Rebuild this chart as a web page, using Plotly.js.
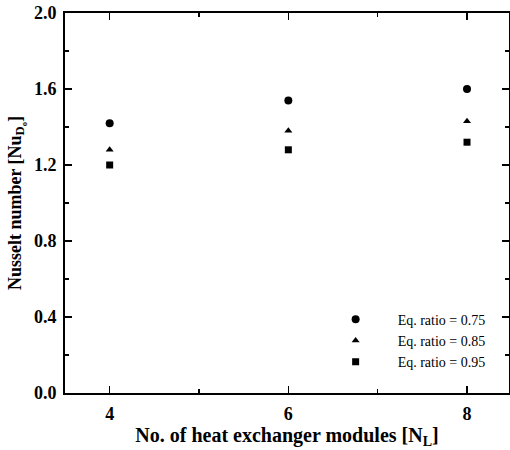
<!DOCTYPE html>
<html>
<head>
<meta charset="utf-8">
<script src="https://cdn.plot.ly/plotly-3.0.1.min.js"></script>
<style>html,body{margin:0;padding:0;background:#fff;}#chart{width:510px;height:450px;}</style>
</head>
<body>
<div id="chart"></div>
<script>
const modules = [4, 6, 8];
const seriesNames = ["Eq. ratio = 0.75", "Eq. ratio = 0.85", "Eq. ratio = 0.95"];
const nu075 = [1.42, 1.54, 1.60];
const nu085 = [1.28, 1.38, 1.43];
const nu095 = [1.20, 1.28, 1.32];

const symbols = ["circle", "triangle-up", "square"];
const sizes = [8, 7, 7];
const values = [nu075, nu085, nu095];
const SERIF = "Liberation Serif, Times New Roman, serif";

const traces = values.map((v, i) => ({
  x: modules, y: v, mode: "markers", type: "scatter", name: seriesNames[i],
  marker: {symbol: symbols[i], size: sizes[i], color: "#000"}
}));

const axisCommon = {
  showline: true, linecolor: "#000", linewidth: 2, mirror: "ticks",
  ticks: "inside", ticklen: 7, tickwidth: 1.5, tickcolor: "#000",
  showgrid: false, zeroline: false, tickmode: "linear",
  tickfont: {family: SERIF, size: 18, color: "#000", weight: "bold"},
  ticklabelstandoff: 3
};

const layout = {
  width: 510, height: 450,
  margin: {l: 65, r: 1, t: 13, b: 57},
  paper_bgcolor: "#fff", plot_bgcolor: "#fff",
  showlegend: true,
  legend: {
    x: 0.56, y: 0.235, xanchor: "left", yanchor: "top",
    font: {family: SERIF, size: 14, color: "#000"},
    itemwidth: 74, bgcolor: "rgba(0,0,0,0)", tracegroupgap: 0
  },
  xaxis: Object.assign({}, axisCommon, {
    range: [3.5, 8.47], tick0: 4, dtick: 2,
    minor: {ticks: "inside", ticklen: 4, tickwidth: 1.5, tickcolor: "#000", dtick: 1, tick0: 4},
    title: {text: "No. of heat exchanger modules [N<sub>L</sub>]", standoff: 0,
      font: {family: SERIF, size: 20, color: "#000", weight: "bold"}}
  }),
  yaxis: Object.assign({}, axisCommon, {
    range: [0, 2.0], tick0: 0, dtick: 0.4, tickformat: ".1f",
    minor: {ticks: "inside", ticklen: 4, tickwidth: 1.5, tickcolor: "#000", dtick: 0.2, tick0: 0},
    title: {text: "Nusselt number [Nu<sub>D<sub>o</sub></sub>]", standoff: 8,
      font: {family: SERIF, size: 18, color: "#000", weight: "bold"}}
  })
};

Plotly.newPlot("chart", traces, layout, {displayModeBar: false, staticPlot: true});
</script>
</body>
</html>
